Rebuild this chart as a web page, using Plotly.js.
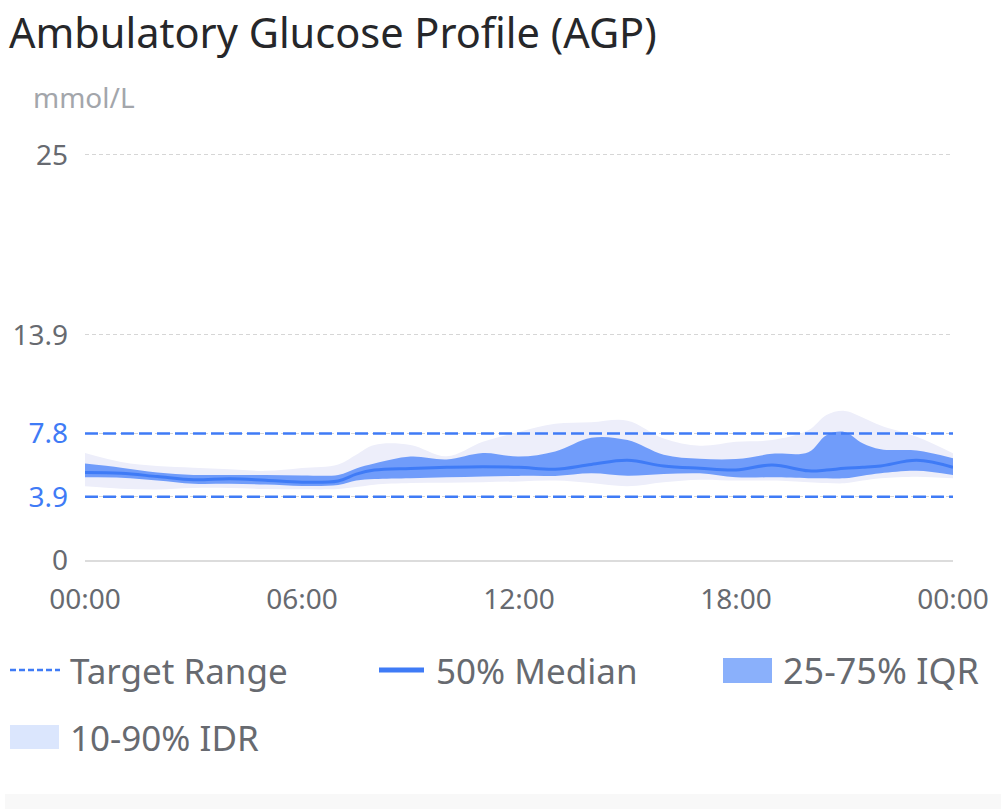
<!DOCTYPE html>
<html>
<head>
<meta charset="utf-8">
<script src="https://cdn.plot.ly/plotly-3.0.1.min.js"></script>
<style>
html,body{margin:0;padding:0;background:#fff;}
#chart{width:1006px;height:809px;}
</style>
</head>
<body>
<div id="chart"></div>
<script>
// time of day in hours
const hours   = [0, 1, 2, 3, 4, 5, 6, 7, 7.5, 8, 9, 10, 11, 12, 13, 14, 15, 16, 17, 18, 19, 20, 20.5, 21, 21.5, 22, 23, 24];
const median  = [5.4, 5.35, 5.15, 4.95, 5.02, 4.92, 4.8, 4.88, 5.3, 5.55, 5.65, 5.72, 5.76, 5.72, 5.6, 5.9, 6.15, 5.8, 5.66, 5.56, 5.86, 5.5, 5.55, 5.66, 5.72, 5.8, 6.15, 5.72];
const iqrLow  = [5.1, 5.08, 4.9, 4.7, 4.7, 4.66, 4.57, 4.63, 4.9, 5.0, 5.05, 5.1, 5.15, 5.19, 5.19, 5.35, 5.2, 5.3, 5.35, 5.1, 5.1, 5.05, 5.05, 5.04, 5.2, 5.35, 5.5, 5.25];
const iqrHigh = [5.95, 5.7, 5.4, 5.25, 5.25, 5.25, 5.22, 5.25, 5.65, 5.95, 6.38, 6.2, 6.6, 6.38, 6.7, 7.55, 7.4, 6.5, 6.25, 6.23, 6.55, 6.65, 7.7, 7.9, 7.2, 6.83, 6.75, 6.28];
const idrLow  = [4.55, 4.4, 4.35, 4.45, 4.45, 4.38, 4.36, 4.38, 4.5, 4.65, 4.75, 4.77, 4.8, 4.85, 4.9, 4.75, 4.55, 4.8, 4.95, 4.9, 4.9, 4.8, 4.75, 4.73, 4.9, 5.04, 5.14, 5.04];
const idrHigh = [6.6, 6.05, 5.8, 5.7, 5.6, 5.5, 5.68, 5.9, 6.5, 7.1, 7.1, 6.4, 7.3, 7.9, 8.4, 8.5, 8.6, 7.5, 7.05, 7.3, 7.4, 8.0, 8.95, 9.2, 8.8, 8.3, 7.6, 6.58];

const targetLow = 3.9, targetHigh = 7.8;
const yTickVals = [0, 3.9, 7.8, 13.9, 25];
const yTickText = ['0', '3.9', '7.8', '13.9', '25'];
const xTickVals = [0, 6, 12, 18, 24];
const xTickText = ['00:00', '06:00', '12:00', '18:00', '00:00'];
const legendLabels = ['Target Range', '50% Median', '25-75% IQR', '10-90% IDR'];

const BLUE = '#3f7bf6';
const GRAY = '#676a70';
const FONT = 'Noto Sans, Roboto, sans-serif';

const line0 = {shape:'spline', smoothing:1.0, width:0, color:'rgba(0,0,0,0)'};
const traces = [
  {x:hours, y:idrLow, mode:'lines', line:line0, hoverinfo:'skip', showlegend:false},
  {x:hours, y:idrHigh, mode:'lines', line:line0, fill:'tonexty', fillcolor:'rgb(237,238,250)', name:legendLabels[3], showlegend:false},
  {x:hours, y:iqrLow, mode:'lines', line:line0, hoverinfo:'skip', showlegend:false},
  {x:hours, y:iqrHigh, mode:'lines', line:line0, fill:'tonexty', fillcolor:'rgb(112,156,250)', name:legendLabels[2], showlegend:false},
  {x:hours, y:median, mode:'lines', line:{shape:'spline', smoothing:1.0, width:3, color:BLUE}, name:legendLabels[1], showlegend:false},
  {x:[0,24], y:[targetHigh,targetHigh], mode:'lines', line:{color:BLUE, width:2.5, dash:'13px,5px'}, showlegend:false, hoverinfo:'skip'},
  {x:[0,24], y:[targetLow,targetLow], mode:'lines', line:{color:BLUE, width:2.5, dash:'13px,5px'}, showlegend:false, hoverinfo:'skip'}
];

const yText = yTickText.map((t,i)=> (yTickVals[i]===targetLow||yTickVals[i]===targetHigh) ? '<span style="color:'+BLUE+'">'+t+'</span>' : t);

// legend built with shapes + annotations; pixel -> paper (plot area) coords
const W = 1006, H = 809;
const ML = 85, MR = 53, MT = 150, MB = 249;
const PW = W - ML - MR, PH = H - MT - MB;
const px = v => (v - ML) / PW;
const py = v => (H - MB - v) / PH;
const shapes = [
  {type:'line', xref:'paper', yref:'paper', x0:px(10), x1:px(60), y0:py(670), y1:py(670), line:{color:BLUE, width:2.5, dash:'6px,3px'}},
  {type:'line', xref:'paper', yref:'paper', x0:px(379), x1:px(424), y0:py(670), y1:py(670), line:{color:BLUE, width:5}},
  {type:'rect', xref:'paper', yref:'paper', x0:px(723), x1:px(772), y0:py(683), y1:py(658), fillcolor:'#8ab0fb', line:{width:0}},
  {type:'rect', xref:'paper', yref:'paper', x0:px(10), x1:px(59), y0:py(749), y1:py(725), fillcolor:'#dbe6fd', line:{width:0}},
  {type:'rect', xref:'paper', yref:'paper', x0:px(5), x1:px(1001), y0:py(809), y1:py(794), fillcolor:'#f8f8f8', line:{width:0}}
];
const legFont = {family:FONT, size:35, color:GRAY};
const annotations = [
  {xref:'paper', yref:'paper', x:px(31), y:py(97), xanchor:'left', yanchor:'middle', text:'mmol/L', showarrow:false, font:{family:FONT, size:28, color:'#a3a6ab'}},
  {xref:'paper', yref:'paper', x:px(68), y:py(670), xanchor:'left', yanchor:'middle', text:legendLabels[0], showarrow:false, font:legFont},
  {xref:'paper', yref:'paper', x:px(434), y:py(670), xanchor:'left', yanchor:'middle', text:legendLabels[1], showarrow:false, font:legFont},
  {xref:'paper', yref:'paper', x:px(781), y:py(670), xanchor:'left', yanchor:'middle', text:legendLabels[2], showarrow:false, font:{family:FONT, size:36, color:GRAY}},
  {xref:'paper', yref:'paper', x:px(68), y:py(737), xanchor:'left', yanchor:'middle', text:legendLabels[3], showarrow:false, font:legFont}
];

const layout = {
  width: W, height: H,
  paper_bgcolor:'#fff', plot_bgcolor:'#fff',
  margin:{l:ML, r:MR, t:MT, b:MB},
  title:{text:'Ambulatory Glucose Profile (AGP)', x:9/W, xanchor:'left', xref:'container', y:1-33/H, yanchor:'middle', yref:'container', font:{family:FONT, size:41.5, color:'#26272a'}},
  showlegend:false,
  xaxis:{range:[0,24], tickvals:xTickVals, ticktext:xTickText, showgrid:false, zeroline:false, showline:true, linecolor:'#dcdcdc', linewidth:1.5,
         ticks:'', ticklabelstandoff:14, tickfont:{family:FONT, size:28, color:GRAY}, fixedrange:true},
  yaxis:{range:[0,25.3], tickvals:yTickVals, ticktext:yText, showgrid:true, gridcolor:'#d6d6d6', griddash:'4px,3px', gridwidth:1, zeroline:false, showline:false,
         ticks:'', ticklabelstandoff:16, tickfont:{family:FONT, size:28, color:GRAY}, fixedrange:true},
  shapes: shapes,
  annotations: annotations
};

Plotly.newPlot('chart', traces, layout, {displayModeBar:false, staticPlot:true});
</script>
</body>
</html>
